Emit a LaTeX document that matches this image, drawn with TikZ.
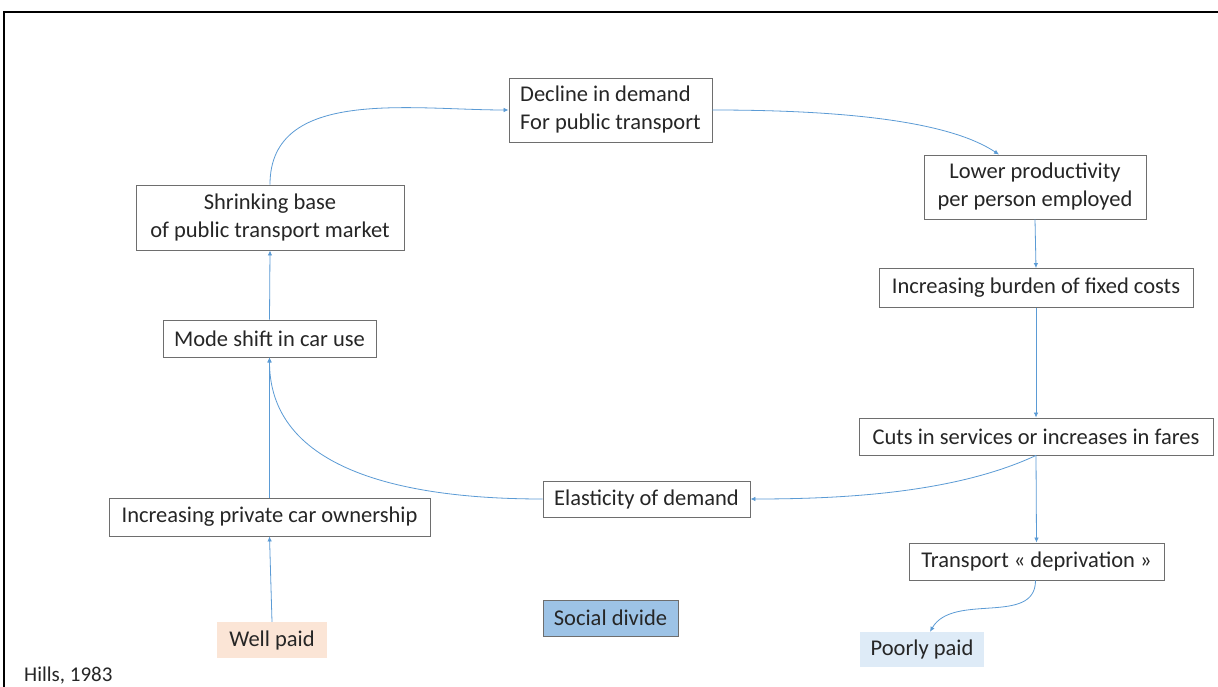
\documentclass[tikz,border=0pt]{standalone}
\usepackage{fontspec}
\setmainfont{Carlito}
\usetikzlibrary{arrows.meta}
\definecolor{boxgray}{HTML}{6E6E6E}
\definecolor{txt}{HTML}{262626}
\definecolor{arrowblue}{HTML}{5B9BD5}
\definecolor{wellpaid}{HTML}{FBE5D6}
\definecolor{poorlypaid}{HTML}{DEEBF7}
\definecolor{divide}{HTML}{9DC3E6}
\tikzset{
  box/.style={draw=boxgray, line width=0.9pt, fill=white, inner sep=0pt, align=center,
    text=txt, font=\fontsize{22.5}{28}\selectfont},
  tag/.style={inner sep=0pt, align=center, text=txt, font=\fontsize{22.5}{28}\selectfont},
  link/.style={draw=arrowblue, line width=0.8pt, -{Latex[length=5pt,width=4.5pt]}}
}
\begin{document}
\begin{tikzpicture}[x=1pt,y=-1pt]
\useasboundingbox (0,0) rectangle (1218,687);
\fill[white] (0,0) rectangle (1218,687);
\draw[line width=2pt, black] (4,687) -- (4,12) -- (1218,12);

\node[box, minimum width=203pt, minimum height=64pt, align=left] (decline) at (610.5,110) {Decline in demand\\For public transport};
\node[box, minimum width=222pt, minimum height=64pt] (lower) at (1035,187) {Lower productivity\\per person employed};
\node[box, minimum width=314pt, minimum height=39pt] (burden) at (1036,288) {Increasing burden of fixed costs};
\node[box, minimum width=354pt, minimum height=37pt] (cuts) at (1036,436.5) {Cuts in services or increases in fares};
\node[box, minimum width=255pt, minimum height=37pt] (depriv) at (1036.5,561.5) {Transport « deprivation »};
\node[tag, fill=poorlypaid, minimum width=124pt, minimum height=35pt] (poor) at (922,649.5) {Poorly paid};
\node[box, minimum width=207pt, minimum height=36pt] (elast) at (646.5,499) {Elasticity of demand};
\node[box, fill=divide, minimum width=135pt, minimum height=36pt] (divide) at (610.5,618) {Social divide};
\node[tag, fill=wellpaid, minimum width=110pt, minimum height=36pt] (well) at (272,640) {Well paid};
\node[box, minimum width=321pt, minimum height=38pt] (carown) at (269.5,517) {Increasing private car ownership};
\node[box, minimum width=213pt, minimum height=37pt] (mode) at (269.5,338.5) {Mode shift in car use};
\node[box, minimum width=268pt, minimum height=65pt] (shrink) at (270,217.5) {Shrinking base\\of public transport market};
\node[tag, anchor=west, font=\fontsize{21}{24}\selectfont] (hills) at (24,676) {Hills, 1983};

\draw[link] (shrink.north) to[out=90,in=180] (decline.west);
\draw[link] (decline.east) .. controls +(150,0) and +(-45,-30) .. ([xshift=-36pt]lower.north);
\draw[link] (lower.south) -- (burden.north);
\draw[link] (burden.south) -- (cuts.north);
\draw[link] (cuts.south) -- (depriv.north);
\draw[link] (cuts.south) to[out=-155,in=0,looseness=0.8] (elast.east);
\draw[link] (elast.west) to[out=180,in=-90] (mode.south);
\draw[link] (carown.north) -- (mode.south);
\draw[link] (mode.north) -- (shrink.south);
\draw[link] (well.north) -- (carown.south);
\draw[link] ([xshift=-1pt]depriv.south) to[out=-90,in=60] ([xshift=8pt]poor.north);
\end{tikzpicture}
\end{document}
